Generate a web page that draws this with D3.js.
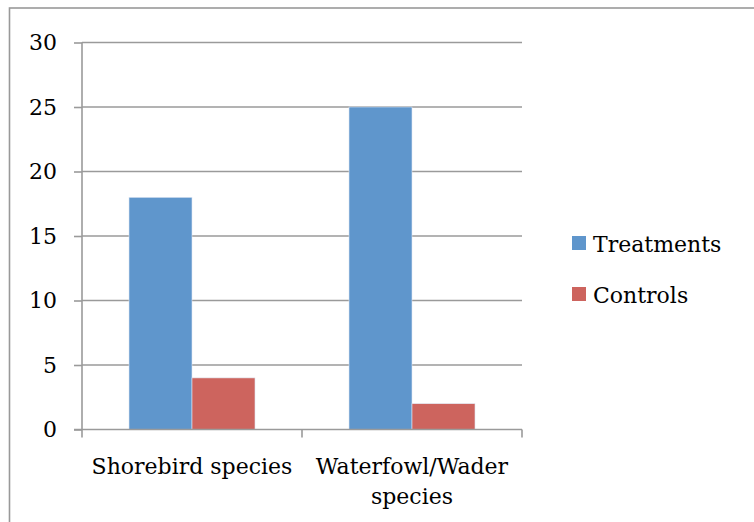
<!DOCTYPE html>
<html><head><meta charset="utf-8">
<script src="https://cdn.jsdelivr.net/npm/d3@7"></script>
<style>
body{margin:0;background:#fff;}
text{font-family:"DejaVu Serif",serif;fill:#000;}
</style></head>
<body><svg id="c" width="754" height="522"></svg>
<script>
const categories = ["Shorebird species", "Waterfowl/Wader species"];
const seriesNames = ["Treatments", "Controls"];
const treatments = [18, 25];
const controls = [4, 2];
const yTicks = [0, 5, 10, 15, 20, 25, 30];
const colors = ["#5F96CC", "#CD645E"];

(function(){
const FS = 22;
const svg = d3.select("#c");
svg.append("rect").attr("x",9.5).attr("y",8).attr("width",760).attr("height",530)
  .attr("fill","none").attr("stroke","#999").attr("stroke-width",1.6);

const pL=82, pR=522, pT=42.5, pB=429.5;
const y = d3.scaleLinear().domain([0,30]).range([pB, pT]);
const x0 = d3.scaleBand().domain(categories).range([pL,pR]).padding(0);
const x1 = d3.scaleBand().domain(seriesNames).range([0,x0.bandwidth()]).paddingInner(0).paddingOuter(0.746);

svg.append("g").selectAll("line").data(yTicks.filter(d=>d>0)).join("line")
  .attr("x1",pL).attr("x2",pR).attr("y1",d=>y(d)).attr("y2",d=>y(d))
  .attr("stroke","#9a9a9a").attr("stroke-width",1.6);

const data = categories.map((c,i)=>({cat:c, vals:[treatments[i], controls[i]]}));
const g = svg.append("g").selectAll("g").data(data).join("g")
  .attr("transform",d=>`translate(${x0(d.cat)},0)`);
g.selectAll("rect").data(d=>d.vals.map((v,j)=>({s:seriesNames[j], v, j}))).join("rect")
  .attr("x",d=>x1(d.s)).attr("width",x1.bandwidth())
  .attr("y",d=>y(d.v)).attr("height",d=>y(0)-y(d.v))
  .attr("fill",d=>colors[d.j]).attr("stroke","#dfe8f3").attr("stroke-width",0.6);

const ya = svg.append("g").attr("transform",`translate(${pL},0)`)
  .call(d3.axisLeft(y).tickValues(yTicks).tickSize(8).tickPadding(6).tickFormat(d3.format("d")));
ya.select(".domain").attr("stroke","#9a9a9a").attr("stroke-width",1.6).attr("d",`M0,${pB}V${pT}`);
ya.selectAll(".tick line").attr("stroke","#9a9a9a").attr("stroke-width",1.6);
ya.selectAll(".tick text").attr("font-size",FS).attr("font-family","DejaVu Serif").attr("fill","#000").attr("x",-25);

const xa = svg.append("g").attr("transform",`translate(0,${pB})`);
xa.append("line").attr("x1",pL-8).attr("x2",pR).attr("stroke","#9a9a9a").attr("stroke-width",1.6);
const tickPos=[pL, ...categories.map(c=>x0(c)+x0.bandwidth())];
xa.selectAll("line.t").data(tickPos).join("line").attr("class","t")
  .attr("x1",d=>d).attr("x2",d=>d).attr("y1",0).attr("y2",8)
  .attr("stroke","#9a9a9a").attr("stroke-width",1.6);
const lines = {"Shorebird species":["Shorebird species"], "Waterfowl/Wader species":["Waterfowl/Wader","species"]};
xa.selectAll("text.c").data(categories).join("text").attr("class","c")
  .attr("text-anchor","middle").attr("font-size",FS)
  .selectAll("tspan").data(d=>lines[d].map((l,i)=>({l,i,x:x0(d)+x0.bandwidth()/2}))).join("tspan")
  .attr("x",d=>d.x).attr("y",d=>44+d.i*30).text(d=>d.l);

const lg = svg.append("g").selectAll("g").data(seriesNames).join("g")
  .attr("transform",(d,i)=>`translate(572,${236+i*51})`);
lg.append("rect").attr("width",14).attr("height",14).attr("fill",(d,i)=>colors[i]);
lg.append("text").attr("x",21).attr("y",16).attr("font-size",FS).text(d=>d);
})();
</script></body></html>
